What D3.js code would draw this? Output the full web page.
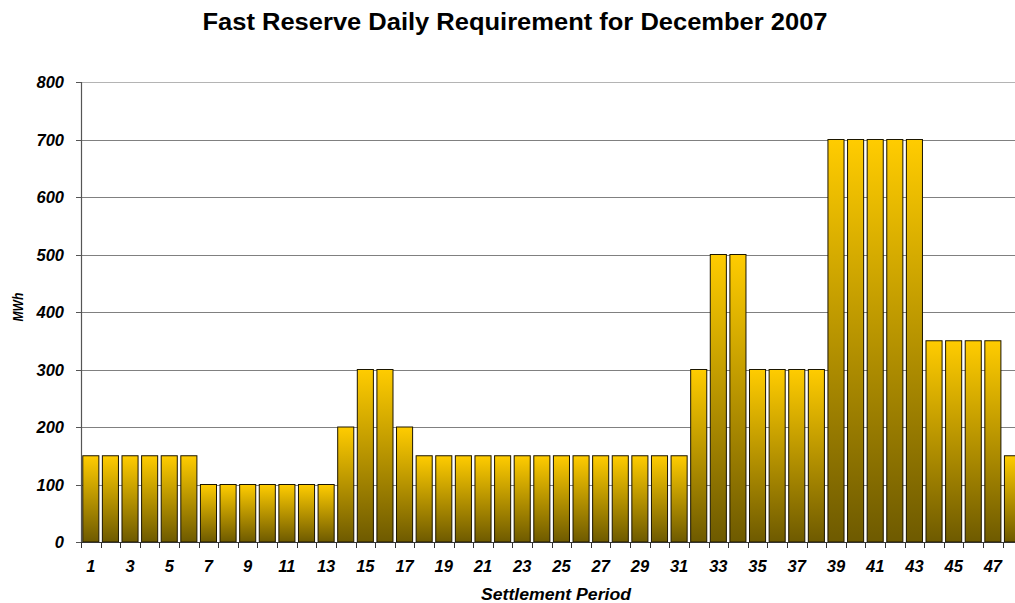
<!DOCTYPE html>
<html>
<head>
<meta charset="utf-8">
<script src="https://cdn.jsdelivr.net/npm/d3@7"></script>
<style>
  html, body { margin: 0; padding: 0; background: #fff; }
  svg { display: block; font-family: "Liberation Sans", Arial, sans-serif; }
</style>
</head>
<body>
<svg id="chart" width="1015" height="603"></svg>
<script>
const chartTitle = "Fast Reserve Daily Requirement for December 2007";
const xTitle = "Settlement Period";
const yTitle = "MWh";
const periods = d3.range(1, 49);
const values = [
  150, 150, 150, 150, 150, 150,
  100, 100, 100, 100, 100, 100, 100,
  200, 300, 300, 200,
  150, 150, 150, 150, 150, 150, 150, 150, 150, 150, 150, 150, 150, 150,
  300, 500, 500, 300, 300, 300, 300,
  700, 700, 700, 700, 700,
  350, 350, 350, 350,
  150
];
const yTicks = [0, 100, 200, 300, 400, 500, 600, 700, 800];
const xLabels = periods.filter(p => p % 2 === 1);

const svg = d3.select("#chart");
const plotLeft = 81, plotTop = 82, plotBottom = 542;
const step = 19.61;
const plotRight = plotLeft + step * periods.length;

const x = d3.scaleBand().domain(periods).range([plotLeft, plotRight])
  .paddingInner(0.18).paddingOuter(0.09);
const y = d3.scaleLinear().domain([0, 800]).range([plotBottom, plotTop]);

const defs = svg.append("defs");
const grad = defs.append("linearGradient").attr("id", "barGrad")
  .attr("x1", 0).attr("y1", 0).attr("x2", 0).attr("y2", 1);
grad.append("stop").attr("offset", "0%").attr("stop-color", "#FFCC00");
grad.append("stop").attr("offset", "100%").attr("stop-color", "#6E5A00");

// gridlines
svg.append("g").selectAll("line").data(yTicks.filter(d => d > 0)).join("line")
  .attr("x1", plotLeft).attr("x2", 1015)
  .attr("y1", d => Math.round(y(d)) + 0.5).attr("y2", d => Math.round(y(d)) + 0.5)
  .attr("stroke", d => d === 800 ? "#b4b4b4" : "#808080")
  .attr("stroke-width", 1);

// bars
svg.append("g").selectAll("rect").data(periods).join("rect")
  .attr("x", d => x(d))
  .attr("width", x.bandwidth())
  .attr("y", (d, i) => y(values[i]))
  .attr("height", (d, i) => plotBottom - y(values[i]))
  .attr("fill", "url(#barGrad)")
  .attr("stroke", "#1c1600")
  .attr("stroke-width", 1);

// y axis
const yAxis = svg.append("g");
yAxis.append("line").attr("x1", plotLeft + 0.5).attr("x2", plotLeft + 0.5)
  .attr("y1", plotTop).attr("y2", plotBottom).attr("stroke", "#555").attr("stroke-width", 1.2);
yAxis.selectAll("line.tk").data(yTicks).join("line").attr("class", "tk")
  .attr("x1", plotLeft - 5).attr("x2", plotLeft)
  .attr("y1", d => Math.round(y(d)) + 0.5).attr("y2", d => Math.round(y(d)) + 0.5)
  .attr("stroke", "#555");
yAxis.selectAll("text").data(yTicks).join("text")
  .attr("x", 64).attr("y", d => y(d) + 6)
  .attr("text-anchor", "end")
  .attr("font-size", 16.5).attr("font-weight", "bold").attr("font-style", "italic")
  .attr("fill", "#000")
  .text(d => d);

// x axis
const xAxis = svg.append("g");
xAxis.append("line").attr("x1", plotLeft).attr("x2", 1015)
  .attr("y1", plotBottom + 0.5).attr("y2", plotBottom + 0.5).attr("stroke", "#333").attr("stroke-width", 1.2);
xAxis.selectAll("line.tk").data(d3.range(0, periods.length + 1)).join("line").attr("class", "tk")
  .attr("x1", k => Math.round(plotLeft + k * step) + 0.5).attr("x2", k => Math.round(plotLeft + k * step) + 0.5)
  .attr("y1", plotBottom).attr("y2", plotBottom + 6)
  .attr("stroke", "#333");
xAxis.selectAll("text").data(xLabels).join("text")
  .attr("x", d => x(d) + x.bandwidth() / 2)
  .attr("y", 572)
  .attr("text-anchor", "middle")
  .attr("font-size", 16.5).attr("font-weight", "bold").attr("font-style", "italic")
  .attr("fill", "#000")
  .text(d => d);

// titles
svg.append("text").attr("x", 515).attr("y", 29.5)
  .attr("text-anchor", "middle")
  .attr("font-size", 23).attr("font-weight", "bold")
  .attr("textLength", 625).attr("lengthAdjust", "spacingAndGlyphs")
  .text(chartTitle);

svg.append("text").attr("x", 556).attr("y", 600)
  .attr("text-anchor", "middle")
  .attr("font-size", 16).attr("font-weight", "bold").attr("font-style", "italic")
  .attr("textLength", 150).attr("lengthAdjust", "spacingAndGlyphs")
  .text(xTitle);

svg.append("text").attr("transform", "translate(23,307) rotate(-90)")
  .attr("text-anchor", "middle")
  .attr("font-size", 15.5).attr("font-weight", "bold").attr("font-style", "italic")
  .attr("textLength", 29).attr("lengthAdjust", "spacingAndGlyphs")
  .text(yTitle);
</script>
</body>
</html>
